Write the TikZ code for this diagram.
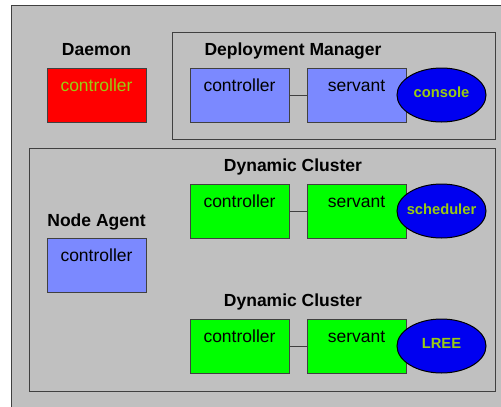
\documentclass[tikz,border=0pt]{standalone}
\usepackage{fontspec}
\setmainfont{Liberation Sans}
\usetikzlibrary{shapes.geometric}
\definecolor{panelgrey}{HTML}{C0C0C0}
\definecolor{edgegrey}{HTML}{404040}
\definecolor{periwinkle}{HTML}{7B89FF}
\definecolor{brightgreen}{HTML}{00FF00}
\definecolor{brightred}{HTML}{FF0000}
\definecolor{ovalblue}{HTML}{0000F0}
\definecolor{limetext}{HTML}{9ACC10}
\tikzset{
  frame/.style={draw=edgegrey, line width=1pt, fill=panelgrey},
  unitbox/.style={draw=edgegrey, line width=1pt, rectangle, minimum width=99pt, minimum height=54pt, inner sep=0pt},
  boxtext/.style={anchor=base, inner sep=0pt, font=\fontsize{17.5}{20}\selectfont},
  heading/.style={anchor=base, inner sep=0pt, font=\fontsize{17.5}{20}\selectfont\bfseries},
  oval/.style={ellipse, draw=black, line width=1pt, fill=ovalblue, minimum width=89pt, minimum height=54pt, inner sep=0pt},
  ovaltext/.style={anchor=base, inner sep=0pt, text=limetext, font=\fontsize{14.7}{17}\selectfont\bfseries},
  link/.style={draw=edgegrey, line width=1pt}
}
\begin{document}
\begin{tikzpicture}[x=1pt, y=-1pt]
\useasboundingbox (0,0) rectangle (501,407);
% outer panel and group frames
\draw[frame] (11,5) rectangle (503,409);
\draw[frame] (172,32) rectangle (495,139);
\draw[frame] (29,148) rectangle (495,391);

% Daemon
\node[heading] (daemonlbl) at (96.5,55) {Daemon};
\node[unitbox, fill=brightred] (daemonctl) at (96.5,95) {};
\node[boxtext, text=limetext] (daemonctltxt) at (96.5,91.5) {controller};

% Deployment Manager
\node[heading] (dmlbl) at (293,55) {Deployment Manager};
\node[unitbox, fill=periwinkle] (dmctl) at (239.5,95) {};
\node[unitbox, fill=periwinkle] (dmsrv) at (356.5,95) {};
\node[boxtext] (dmctltxt) at (239.5,91.5) {controller};
\node[boxtext] (dmsrvtxt) at (356.5,91) {servant};
\draw[link] (dmctl.east) -- (dmsrv.west);
\node[oval] (console) at (441.5,95) {};
\node[ovaltext] (consoletxt) at (441.5,97) {console};

% Node Agent
\node[heading] (nalbl) at (96.5,226) {Node Agent};
\node[unitbox, fill=periwinkle] (nactl) at (96.5,265) {};
\node[boxtext] (nactltxt) at (96.5,261.5) {controller};

% Dynamic Cluster (scheduler)
\node[heading] (dc1lbl) at (293,171.5) {Dynamic Cluster};
\node[unitbox, fill=brightgreen] (dc1ctl) at (239.5,211) {};
\node[unitbox, fill=brightgreen] (dc1srv) at (356.5,211) {};
\node[boxtext] (dc1ctltxt) at (239.5,207.5) {controller};
\node[boxtext] (dc1srvtxt) at (356.5,207) {servant};
\draw[link] (dc1ctl.east) -- (dc1srv.west);
\node[oval] (scheduler) at (441.5,211) {};
\node[ovaltext] (schedulertxt) at (441.5,214) {scheduler};

% Dynamic Cluster (LREE)
\node[heading] (dc2lbl) at (293,306.5) {Dynamic Cluster};
\node[unitbox, fill=brightgreen] (dc2ctl) at (239.5,346) {};
\node[unitbox, fill=brightgreen] (dc2srv) at (356.5,346) {};
\node[boxtext] (dc2ctltxt) at (239.5,342.5) {controller};
\node[boxtext] (dc2srvtxt) at (356.5,342) {servant};
\draw[link] (dc2ctl.east) -- (dc2srv.west);
\node[oval] (lree) at (441.5,346) {};
\node[ovaltext] (lreetxt) at (441.5,348.5) {LREE};
\end{tikzpicture}
\end{document}
